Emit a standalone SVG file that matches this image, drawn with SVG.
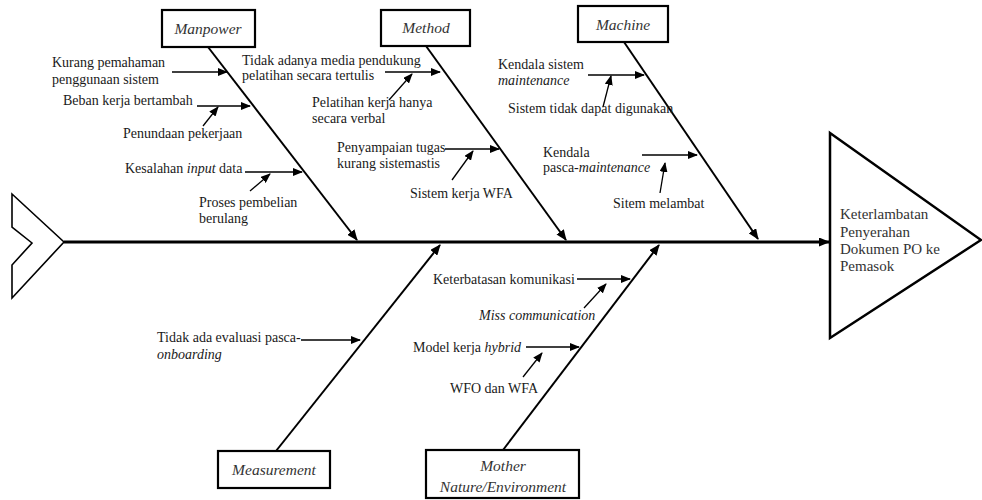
<svg xmlns="http://www.w3.org/2000/svg" width="982" height="500" viewBox="0 0 982 500">
<defs>
<marker id="ah" markerUnits="userSpaceOnUse" markerWidth="11" markerHeight="9" refX="10" refY="4.5" orient="auto"><path d="M0,0 L11,4.5 L0,9 z" fill="#000"/></marker>
<marker id="as" markerUnits="userSpaceOnUse" markerWidth="10" markerHeight="8" refX="9" refY="4" orient="auto"><path d="M0,0 L10,4 L0,8 z" fill="#000"/></marker>
<style>
text{font-family:'Liberation Serif','DejaVu Serif',serif;font-size:14px;fill:#1a1a1a}
.i{font-style:italic}
.c{text-anchor:middle}
.lbl{font-size:15.5px;fill:#333}
.hd{font-size:15px;fill:#333}
.box{fill:#fff;stroke:#000;stroke-width:2.2}
.bone{stroke:#000;stroke-width:2;fill:none;marker-end:url(#ah)}
.sub{stroke:#000;stroke-width:1.3;fill:none;marker-end:url(#as)}
</style>
</defs>
<rect width="982" height="500" fill="#fff"/>
<g id="tail"><polygon points="12,194 64,242 12,298 12,265 32,243 12,227" fill="#fff" stroke="#000" stroke-width="1.6"/></g>
<g id="head"><polygon points="830,133 981,240 830,338" fill="#fff" stroke="#000" stroke-width="2.5"/>
<text class="hd" x="840" y="219">Keterlambatan</text>
<text class="hd" x="840" y="237">Penyerahan</text>
<text class="hd" x="840" y="254">Dokumen PO ke</text>
<text class="hd" x="840" y="271">Pemasok</text></g>
<g id="connectors">
<line x1="64" y1="242" x2="829" y2="242" stroke="#000" stroke-width="3" marker-end="url(#ah)"/>
<line class="bone" x1="208" y1="47" x2="357" y2="240"/>
<line class="bone" x1="426" y1="46" x2="566" y2="240"/>
<line class="bone" x1="624" y1="42" x2="758" y2="239"/>
<line class="bone" x1="276" y1="451" x2="440" y2="245"/>
<line class="bone" x1="503" y1="450" x2="659" y2="245"/>
<line class="sub" x1="172" y1="72" x2="227" y2="72"/>
<line class="sub" x1="197" y1="106" x2="250" y2="106"/>
<line class="sub" x1="203" y1="126" x2="218" y2="107"/>
<line class="sub" x1="245" y1="172" x2="302" y2="172"/>
<line class="sub" x1="250" y1="191" x2="270" y2="174"/>
<line class="sub" x1="385" y1="72" x2="440" y2="72"/>
<line class="sub" x1="389" y1="100" x2="412" y2="74"/>
<line class="sub" x1="445" y1="149" x2="499" y2="149"/>
<line class="sub" x1="452" y1="180" x2="473" y2="151"/>
<line class="sub" x1="588" y1="75" x2="644" y2="75"/>
<line class="sub" x1="603" y1="107" x2="611" y2="76"/>
<line class="sub" x1="642" y1="155" x2="697" y2="155"/>
<line class="sub" x1="660" y1="193" x2="665" y2="163"/>
<line class="sub" x1="301" y1="340" x2="360" y2="340"/>
<line class="sub" x1="577" y1="279" x2="630" y2="279"/>
<line class="sub" x1="584" y1="308" x2="606" y2="284"/>
<line class="sub" x1="526" y1="347" x2="579" y2="347"/>
<line class="sub" x1="523" y1="377" x2="542" y2="353"/>
</g>
<g id="manpower"><rect class="box" x="162" y="10" width="93" height="37"/><text class="lbl i c" x="208" y="34">Manpower</text></g>
<g id="method"><rect class="box" x="381" y="10" width="89" height="36"/><text class="lbl i c" x="426" y="33">Method</text></g>
<g id="machine"><rect class="box" x="578" y="6" width="90" height="36"/><text class="lbl i c" x="623" y="30">Machine</text></g>
<g id="measurement"><rect class="box" x="218" y="451" width="112" height="37"/><text class="lbl i c" x="274" y="475">Measurement</text></g>
<g id="environment"><rect class="box" x="426" y="450" width="153" height="48"/><text class="lbl i c" x="503" y="471">Mother</text><text class="lbl i c" x="503" y="492">Nature/Environment</text></g>
<g id="causes">
<text x="52" y="67">Kurang pemahaman</text>
<text x="52" y="84">penggunaan  sistem</text>
<text x="63" y="105">Beban kerja bertambah</text>
<text x="123" y="138">Penundaan pekerjaan</text>
<text x="125" y="173">Kesalahan <tspan class="i">input</tspan> data</text>
<text x="199" y="207">Proses pembelian</text>
<text x="199" y="223">berulang</text>
<text x="242" y="65">Tidak adanya media pendukung</text>
<text x="242" y="80">pelatihan secara tertulis</text>
<text x="312" y="107">Pelatihan kerja hanya</text>
<text x="312" y="123">secara verbal</text>
<text x="337" y="152">Penyampaian tugas</text>
<text x="337" y="168">kurang sistemastis</text>
<text x="410" y="198">Sistem kerja WFA</text>
<text x="498" y="69">Kendala sistem</text>
<text class="i" x="498" y="85">maintenance</text>
<text x="508" y="113">Sistem tidak dapat digunakan</text>
<text x="543" y="157">Kendala</text>
<text x="543" y="172">pasca-<tspan class="i">maintenance</tspan></text>
<text x="613" y="208">Sitem melambat</text>
<text x="157" y="342">Tidak ada evaluasi pasca-</text>
<text class="i" x="157" y="359">onboarding</text>
<text x="433" y="284">Keterbatasan komunikasi</text>
<text class="i" x="479" y="320">Miss communication</text>
<text x="413" y="352">Model kerja <tspan class="i">hybrid</tspan></text>
<text x="450" y="393">WFO dan WFA</text>
</g>
</svg>
